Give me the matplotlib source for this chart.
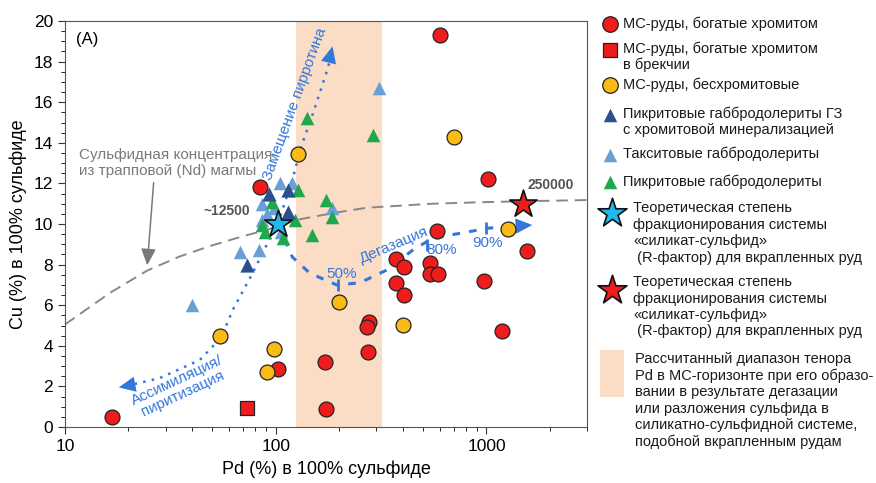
import numpy as np
import matplotlib.pyplot as plt
from matplotlib.patches import Rectangle

plt.rcParams['font.family'] = ['Liberation Sans', 'DejaVu Sans']

# --- data (Pd %, Cu %) ---
red_pd = [16.8, 102, 84, 599, 1012, 580, 1563, 374, 404, 537, 537, 592, 371, 408,
          978, 1191, 276, 270, 273, 172, 174]
red_cu = [0.5, 2.86, 11.8, 19.3, 12.2, 9.65, 8.67, 8.28, 7.88, 8.08, 7.53, 7.53, 7.09, 6.5,
          7.19, 4.73, 5.17, 4.93, 3.69, 3.2, 0.89]
sq_pd = [72.9]
sq_cu = [0.94]
orange_pd = [127, 705, 1271, 199, 400, 54.3, 97.8, 90.6]
orange_cu = [13.45, 14.3, 9.75, 6.16, 5.02, 4.48, 3.84, 2.71]
dblue_pd = [114, 92.7, 114, 72.9]
dblue_cu = [11.67, 11.5, 10.6, 8.0]
lblue_pd = [104.5, 119, 86.5, 98.5, 90.6, 86.5, 106.5, 67.5, 83, 184, 308, 40]
lblue_cu = [12.0, 12.0, 11.0, 10.8, 10.5, 10.2, 9.6, 8.6, 8.7, 10.8, 16.7, 6.0]
green_pd = [127, 95.7, 123, 86.5, 88.7, 108, 148, 174, 184, 140, 291]
green_cu = [11.67, 11.1, 10.2, 9.95, 9.6, 9.3, 9.45, 11.2, 10.35, 15.2, 14.4]
star_blue = (102, 10.0)
star_red = (1483, 10.98)
band_pd = (125, 320)

# sulfide from trap magma (grey dashed curve)
mix_pd = [10, 16.3, 24.5, 35, 50, 70, 90, 125, 190, 270, 555, 1000, 1500, 3000]
mix_cu = [5.05, 6.6, 7.7, 8.4, 8.95, 9.4, 9.7, 10.2, 10.55, 10.8, 11.0, 11.08, 11.12, 11.18]

# assimilation / pyrrhotite replacement (blue dotted)
asm_pd = [19.5, 28, 43.6, 55, 62.5, 77.8, 95, 102, 110, 120, 133, 152, 172, 184]
asm_cu = [2.02, 2.4, 3.3, 4.4, 5.76, 7.6, 9.4, 10.0, 11.0, 12.2, 13.9, 15.6, 17.3, 18.3]
# degassing (blue dashed)
deg_pd = [102, 120, 145, 194.5, 250, 336, 445, 555, 804, 1033, 1550]
deg_cu = [10.0, 8.37, 7.58, 7.0, 7.1, 7.73, 8.7, 9.3, 9.6, 9.8, 9.92]
deg_ticks_pd = [197, 520, 990]
deg_ticks_cu = [7.0, 8.97, 9.8]

RED = '#ee1c1c'
ORANGE = '#fbbb16'
DBLUE = '#2e4f8f'
LBLUE = '#6a9fd6'
GREEN = '#1fa84c'
CYAN = '#22b8ee'
PEACH = '#fbdcc4'
LINEBLUE = '#3377dd'
GREY = '#7a7a7a'

fig = plt.figure(figsize=(8.76, 4.83), dpi=100)
W, H = 876, 483
ax = fig.add_axes([65 / W, (H - 427) / H, (587 - 65) / W, (427 - 21) / H])
ax.set_xscale('log')
ax.set_xlim(10, 3000)
ax.set_ylim(0, 20)
ax.set_yticks(np.arange(0, 21, 2))
ax.set_yticks(np.arange(0, 20.1, 0.5), minor=True)
ax.set_xticks([10, 100, 1000])
ax.set_xticklabels(['10', '100', '1000'])
ax.tick_params(labelsize=12.5, length=5, color='#333333')
ax.tick_params(which='minor', length=3)
for s in ax.spines.values():
    s.set_color('#555555')
ax.set_xlabel('Pd (%) в 100% сульфиде', fontsize=13, labelpad=5)
ax.set_ylabel('Cu (%) в 100% сульфиде', fontsize=13, labelpad=5)

ax.axvspan(band_pd[0], band_pd[1], color=PEACH, zorder=0, lw=0)

ax.plot(mix_pd, mix_cu, color='#888888', ls=(0, (6, 3.5)), lw=1.4, zorder=1)

# blue process lines
ax.plot(asm_pd, asm_cu, color=LINEBLUE, ls=(0, (1, 2.5)), lw=1.8, zorder=2)
ax.plot(deg_pd, deg_cu, color=LINEBLUE, ls=(0, (2.5, 3)), lw=2.2, zorder=2)
head = dict(arrowstyle='-|>,head_length=1.2,head_width=0.55', color=LINEBLUE, lw=0, shrinkA=0, shrinkB=0)
ax.annotate('', xy=(186, 18.75), xytext=(asm_pd[-2], asm_cu[-2]), arrowprops=head, zorder=3)
ax.annotate('', xy=(18.0, 1.95), xytext=(24, 2.2), arrowprops=head, zorder=3)
ax.annotate('', xy=(1650, 9.95), xytext=(1200, 9.86), arrowprops=head, zorder=3)
ax.plot(deg_ticks_pd, deg_ticks_cu, ls='none', marker='|', ms=9, mew=2, color=LINEBLUE, zorder=3)

# data points
ax.scatter(lblue_pd, lblue_cu, marker='^', s=95, color=LBLUE, lw=0, zorder=4)
ax.scatter(green_pd, green_cu, marker='^', s=95, color=GREEN, lw=0, zorder=4)
ax.scatter(dblue_pd, dblue_cu, marker='^', s=105, color=DBLUE, lw=0, zorder=4)
ax.scatter(red_pd, red_cu, marker='o', s=115, color=RED, edgecolor='#222222', lw=0.9, zorder=5)
ax.scatter(orange_pd, orange_cu, marker='o', s=115, color=ORANGE, edgecolor='#222222', lw=0.9, zorder=5)
ax.scatter(sq_pd, sq_cu, marker='s', s=110, color=RED, edgecolor='#222222', lw=0.9, zorder=5)
ax.scatter(*star_blue, marker='*', s=430, color=CYAN, edgecolor='#111111', lw=1.2, zorder=6)
ax.scatter(*star_red, marker='*', s=430, color=RED, edgecolor='#111111', lw=1.2, zorder=6)

# text annotations
ax.text(0.022, 0.955, '(A)', transform=ax.transAxes, fontsize=12, va='center')
ax.text(11.6, 13.0, 'Сульфидная концентрация\nиз трапповой (Nd) магмы', fontsize=11,
        color=GREY, va='center', linespacing=1.25)
ax.annotate('', xy=(24.5, 7.83), xytext=(26.4, 12.17),
            arrowprops=dict(arrowstyle='-|>,head_length=1.0,head_width=0.45', color=GREY, lw=1.1))
ax.text(76, 10.65, '~12500', fontsize=10, color='#555555', fontweight='bold', ha='right', va='center')
ax.text(1560, 11.9, '250000', fontsize=10, color='#555555', fontweight='bold', ha='left', va='center')
ax.text(123, 15.9, 'Замещение пирротина', fontsize=11, color=LINEBLUE, rotation=70,
        ha='center', va='center')
ax.text(35, 1.97, 'Ассимиляция/\nпиритизация', fontsize=11, color=LINEBLUE, rotation=25,
        ha='center', va='center', linespacing=1.0)
ax.text(365, 8.97, 'Дегазация', fontsize=11, color=LINEBLUE, rotation=23, ha='center', va='center')
ax.text(206, 7.55, '50%', fontsize=11, color=LINEBLUE, ha='center', va='center')
ax.text(615, 8.72, '80%', fontsize=11, color=LINEBLUE, ha='center', va='center')
ax.text(1010, 9.06, '90%', fontsize=11, color=LINEBLUE, ha='center', va='center')

# legend drawn in pixel coordinates
lax = fig.add_axes([0, 0, 1, 1])
lax.set_xlim(0, W)
lax.set_ylim(H, 0)
lax.axis('off')
lax.patch.set_alpha(0)
mk = 610
lax.scatter([mk], [24], marker='o', s=125, color=RED, edgecolor='#222222', lw=0.9)
lax.scatter([mk], [50], marker='s', s=115, color=RED, edgecolor='#222222', lw=0.9)
lax.scatter([mk], [85], marker='o', s=125, color=ORANGE, edgecolor='#222222', lw=0.9)
lax.scatter([mk], [115], marker='^', s=95, color=DBLUE, lw=0)
lax.scatter([mk], [155], marker='^', s=95, color=LBLUE, lw=0)
lax.scatter([mk], [182], marker='^', s=95, color=GREEN, lw=0)
lax.scatter([612], [213], marker='*', s=480, color=CYAN, edgecolor='#111111', lw=1.2)
lax.scatter([612], [290], marker='*', s=480, color=RED, edgecolor='#111111', lw=1.2)
lax.add_patch(Rectangle((600, 350), 24, 47, color=PEACH, lw=0))

theory = ['Теоретическая степень', 'фракционирования системы', '«силикат-сульфид»',
          ' (R-фактор) для вкрапленных руд']
legend_lines = [
    (24, 'МС-руды, богатые хромитом'),
    (49, 'МС-руды, богатые хромитом'), (65, 'в брекчии'),
    (85, 'МС-руды, бесхромитовые'),
    (114, 'Пикритовые габбродолериты ГЗ'), (130, 'с хромитовой минерализацией'),
    (154, 'Такситовые габбродолериты'),
    (182, 'Пикритовые габбродолериты'),
]
for y, t in legend_lines:
    lax.text(623, y, t, fontsize=10.5, va='center', ha='left', color='#1a1a1a')
theory_lines = [(208 + 16.7 * i, t) for i, t in enumerate(theory)]
theory_lines += [(282 + 16.5 * i, t) for i, t in enumerate(theory)]
for y, t in theory_lines:
    lax.text(633, y, t, fontsize=10.5, va='center', ha='left', color='#1a1a1a')
band_text = ['Рассчитанный диапазон тенора', 'Pd в МС-горизонте при его образо-',
             'вании в результате дегазации', 'или разложения сульфида в',
             'силикатно-сульфидной системе,', 'подобной вкрапленным рудам']
for i, t in enumerate(band_text):
    lax.text(635, 359 + 16.6 * i, t, fontsize=10.5, va='center', ha='left', color='#1a1a1a')

fig.savefig('out.png', dpi=100)
